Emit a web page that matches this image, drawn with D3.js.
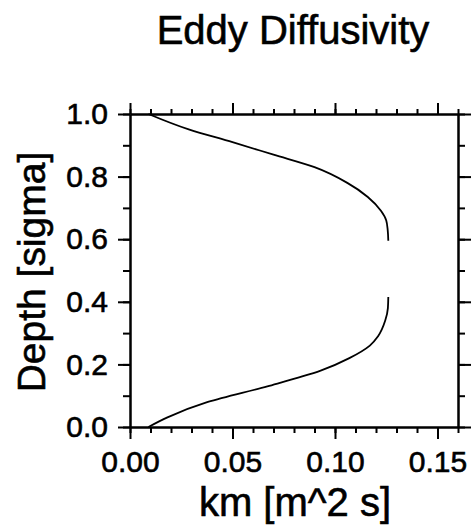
<!DOCTYPE html>
<html>
<head>
<meta charset="utf-8">
<script src="https://cdn.jsdelivr.net/npm/d3@7/dist/d3.min.js"></script>
<style>
  body { margin: 0; background: #fff; }
  svg text { fill: #000; stroke: #000; stroke-width: 0.6px; }
</style>
</head>
<body>
<svg id="chart" width="476" height="531"></svg>
<script>
// Profile below the mid-depth gap (sigma counted up from the bed)
var lowerSigma = [0.00, 0.03, 0.08, 0.13, 0.18, 0.22, 0.26, 0.29, 0.34, 0.38, 0.415];
var lowerKm    = [0.009, 0.018, 0.038, 0.067, 0.093, 0.107, 0.117, 0.121, 0.1245, 0.1258, 0.126];
// Profile above the gap
var upperSigma = [0.595, 0.63, 0.66, 0.69, 0.735, 0.78, 0.83, 0.87, 0.91, 0.95, 1.00];
var upperKm    = [0.126, 0.1257, 0.125, 0.1225, 0.116, 0.106, 0.090, 0.070, 0.050, 0.029, 0.009];

var xTicks = [0, 0.05, 0.10, 0.15];
var xMinorTicks = [0, 0.01, 0.02, 0.03, 0.04, 0.05, 0.06, 0.07, 0.08, 0.09, 0.10, 0.11, 0.12, 0.13, 0.14, 0.15, 0.16];
var yTicks = [0, 0.2, 0.4, 0.6, 0.8, 1.0];
var yMinorTicks = [0, 0.1, 0.2, 0.3, 0.4, 0.5, 0.6, 0.7, 0.8, 0.9, 1.0];

var titleText = 'Eddy Diffusivity';
var xLabel = 'km [m^2 s]';
var yLabel = 'Depth [sigma]';

var fontFam = '"Liberation Sans", Arial, Helvetica, sans-serif';

var svg = d3.select('#chart');
var frame = {left: 130, right: 458, top: 114, bottom: 427};

var x = d3.scaleLinear().domain([0, 0.16]).range([frame.left, frame.right]);
var y = d3.scaleLinear().domain([0, 1]).range([frame.bottom, frame.top]);

//Axis helper - minor ticks first, then major ticks (with or without labels)
function drawAxis(axisFn, scale, pos, minor, major, minorLen, majorLen, fmt, pad) {
    var g = svg.append('g').attr('transform', pos);
    g.call(axisFn(scale).tickValues(minor).tickSize(minorLen).tickSizeOuter(0).tickFormat(''));
    var gm = svg.append('g').attr('transform', pos)
        .call(axisFn(scale).tickValues(major).tickSize(majorLen).tickSizeOuter(0)
            .tickPadding(pad || 3).tickFormat(fmt || ''));
    [g, gm].forEach(function(a) {
        a.attr('font-family', fontFam).attr('font-size', 30);
        a.select('.domain').attr('stroke', '#000').attr('stroke-width', 2);
        a.selectAll('.tick line').attr('stroke', '#000').attr('stroke-width', 2);
    });
    return gm;
}

drawAxis(d3.axisBottom, x, 'translate(0,' + frame.bottom + ')', xMinorTicks, xTicks, 6, 12, d3.format('.2f'), 12);
drawAxis(d3.axisTop, x, 'translate(0,' + frame.top + ')', xMinorTicks, xTicks, 5, 11);
drawAxis(d3.axisLeft, y, 'translate(' + frame.left + ',0)', yMinorTicks, yTicks, 7, 12, d3.format('.1f'), 10);
drawAxis(d3.axisRight, y, 'translate(' + frame.right + ',0)', yMinorTicks, yTicks, 7, 13);

//The two pieces of the diffusivity profile
var line = d3.line()
    .x(function(d) { return x(d.km); })
    .y(function(d) { return y(d.sigma); })
    .curve(d3.curveMonotoneY);

var segments = [
    lowerSigma.map(function(s, i) { return {sigma: s, km: lowerKm[i]}; }),
    upperSigma.map(function(s, i) { return {sigma: s, km: upperKm[i]}; })
];

svg.selectAll('.profile')
    .data(segments)
    .enter()
    .append('path')
    .attr('class', 'profile')
    .attr('d', line)
    .attr('fill', 'none')
    .attr('stroke', '#000')
    .attr('stroke-width', 1.8);

//Titles
svg.append('text')
    .attr('x', 293).attr('y', 44)
    .attr('text-anchor', 'middle')
    .attr('font-family', fontFam).attr('font-size', 40)
    .text(titleText);

svg.append('text')
    .attr('x', 295).attr('y', 516)
    .attr('text-anchor', 'middle')
    .attr('font-family', fontFam).attr('font-size', 40)
    .text(xLabel);

svg.append('text')
    .attr('transform', 'translate(45,272) rotate(-90)')
    .attr('text-anchor', 'middle')
    .attr('font-family', fontFam).attr('font-size', 39)
    .text(yLabel);
</script>
</body>
</html>
